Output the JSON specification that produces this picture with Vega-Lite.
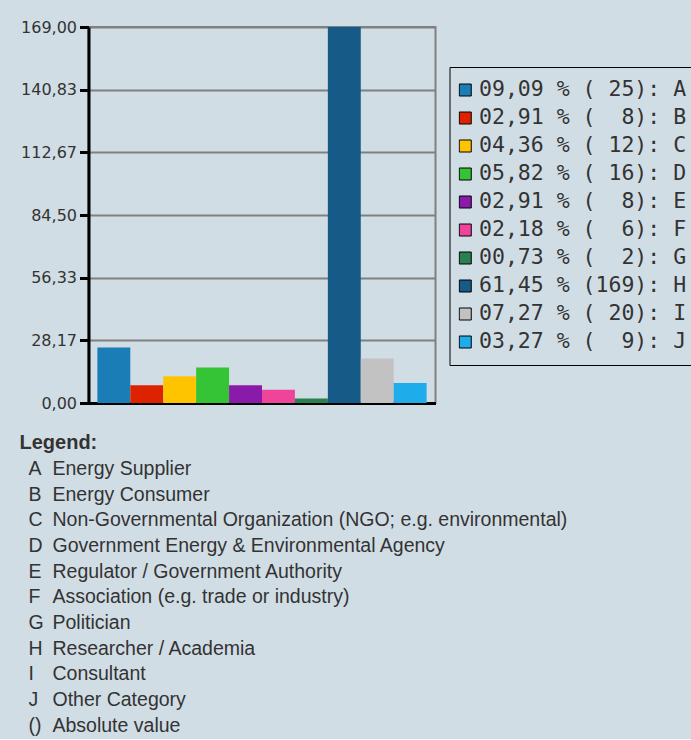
{
  "$schema": "https://vega.github.io/schema/vega-lite/v6.json",
  "background": "#d1dde5",
  "padding": {"left": 19.5, "top": 18, "right": 0, "bottom": 0},
  "spacing": 21,
  "config": {"font": "Liberation Sans"},
  "vconcat": [
    {
      "width": 347,
      "height": 376,
      "view": {"stroke": "#808080", "strokeWidth": 2},
      "data": {"values": [
        {"cat": "A", "count": 25, "label": "09,09\u00a0%\u00a0(\u00a025):\u00a0A"},
        {"cat": "B", "count": 8, "label": "02,91\u00a0%\u00a0(\u00a0\u00a08):\u00a0B"},
        {"cat": "C", "count": 12, "label": "04,36\u00a0%\u00a0(\u00a012):\u00a0C"},
        {"cat": "D", "count": 16, "label": "05,82\u00a0%\u00a0(\u00a016):\u00a0D"},
        {"cat": "E", "count": 8, "label": "02,91\u00a0%\u00a0(\u00a0\u00a08):\u00a0E"},
        {"cat": "F", "count": 6, "label": "02,18\u00a0%\u00a0(\u00a0\u00a06):\u00a0F"},
        {"cat": "G", "count": 2, "label": "00,73\u00a0%\u00a0(\u00a0\u00a02):\u00a0G"},
        {"cat": "H", "count": 169, "label": "61,45\u00a0%\u00a0(169):\u00a0H"},
        {"cat": "I", "count": 20, "label": "07,27\u00a0%\u00a0(\u00a020):\u00a0I"},
        {"cat": "J", "count": 9, "label": "03,27\u00a0%\u00a0(\u00a0\u00a09):\u00a0J"}
      ]},
      "mark": {"type": "bar", "opacity": 1},
      "encoding": {
        "x": {
          "field": "cat", "type": "nominal", "sort": null,
          "scale": {"paddingInner": 0, "paddingOuter": 0.27},
          "axis": {"title": null, "labels": false, "ticks": false, "domainColor": "#000000", "domainWidth": 3}
        },
        "y": {
          "field": "count", "type": "quantitative",
          "scale": {"domain": [0, 169], "nice": false},
          "axis": {
            "title": null,
            "values": [0, 28.1666667, 56.3333333, 84.5, 112.6666667, 140.8333333, 169],
            "labelExpr": "replace(format(datum.value, '.2f'), '.', ',')",
            "labelFont": "DejaVu Sans", "labelFontSize": 16, "labelColor": "#333333",
            "labelPadding": 3,
            "domainColor": "#000000", "domainWidth": 3,
            "tickColor": "#000000", "tickWidth": 3, "tickSize": 9,
            "grid": true, "gridColor": "#808080", "gridWidth": 2, "gridOpacity": 1
          }
        },
        "color": {
          "field": "label", "type": "nominal",
          "sort": {"field": "cat", "op": "min"},
          "scale": {"range": ["#1a7db5", "#dd2200", "#ffc400", "#35c435", "#8a1aaa", "#ee4499", "#2a8050", "#165a88", "#c2c2c2", "#1eacea"]},
          "legend": {
            "title": null,
            "orient": "none", "legendX": 361, "legendY": 40,
            "symbolType": "square", "symbolSize": 144, "symbolOffset": -4,
            "symbolStrokeColor": "#000000", "symbolStrokeWidth": 1, "symbolOpacity": 1,
            "labelFont": "DejaVu Sans Mono", "labelFontSize": 21.5, "labelColor": "#333333",
            "labelOffset": 3, "labelLimit": 0,
            "clipHeight": 28,
            "strokeColor": "#000000",
            "padding": 9, "rowPadding": 0
          }
        }
      }
    },
    {
      "width": 500,
      "height": {"step": 25.7},
      "view": {"stroke": null},
      "title": {"text": "Legend:", "anchor": "start", "font": "Liberation Sans", "fontSize": 20, "fontWeight": "bold", "color": "#333333", "dx": -9, "offset": 3},
      "data": {"values": [
        {"key": "A", "desc": "Energy Supplier"},
        {"key": "B", "desc": "Energy Consumer"},
        {"key": "C", "desc": "Non-Governmental Organization (NGO; e.g. environmental)"},
        {"key": "D", "desc": "Government Energy & Environmental Agency"},
        {"key": "E", "desc": "Regulator / Government Authority"},
        {"key": "F", "desc": "Association (e.g. trade or industry)"},
        {"key": "G", "desc": "Politician"},
        {"key": "H", "desc": "Researcher / Academia"},
        {"key": "I", "desc": "Consultant"},
        {"key": "J", "desc": "Other Category"},
        {"key": "()", "desc": "Absolute value"}
      ]},
      "encoding": {
        "y": {"field": "key", "type": "ordinal", "sort": null, "axis": null},
        "x": {"datum": 0, "type": "quantitative", "scale": {"domain": [0, 100]}, "axis": null}
      },
      "layer": [
        {"mark": {"type": "text", "align": "left", "dx": -60, "font": "Liberation Sans", "fontSize": 19.5, "color": "#333333"},
         "encoding": {"text": {"field": "key"}}},
        {"mark": {"type": "text", "align": "left", "dx": -36, "font": "Liberation Sans", "fontSize": 19.5, "color": "#333333"},
         "encoding": {"text": {"field": "desc"}}}
      ]
    }
  ]
}
